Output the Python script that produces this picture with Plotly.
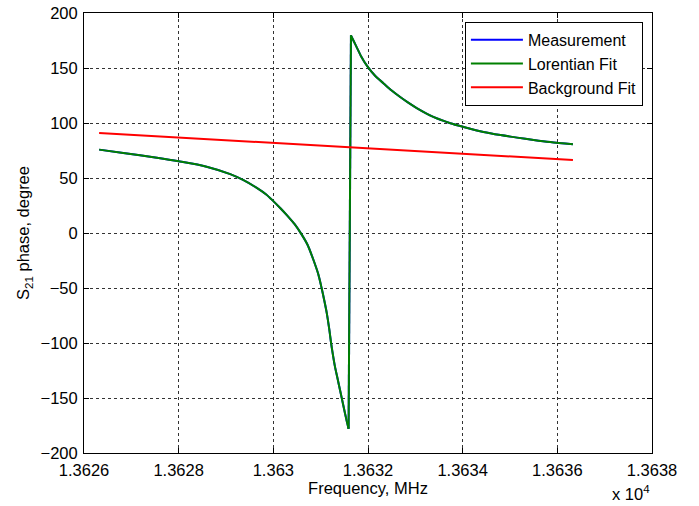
import plotly.graph_objects as go

# Lorentzian fit, branch below the phase wrap: frequency (MHz) and phase (degree)
left_freq = [13626.32, 13626.83, 13627.54, 13628.00, 13628.59, 13629.09, 13629.37,
             13629.65, 13629.85, 13630.00, 13630.15, 13630.29, 13630.45, 13630.60,
             13630.72, 13630.85, 13630.95, 13631.02, 13631.08, 13631.13, 13631.18,
             13631.22, 13631.26, 13631.30, 13631.36, 13631.41, 13631.48, 13631.54,
             13631.59]
left_phase = [75.8, 72.8, 68.4, 65.2, 60.3, 53.5, 48.0,
              41.0, 35.0, 29.0, 22.5, 16.0, 8.0, -1.5,
              -10.5, -24.8, -37.5, -50.0, -62.0, -73.0, -87.0,
              -100.0, -111.0, -121.0, -133.0, -143.0, -157.0, -169.0,
              -178.0]

# Branch above the phase wrap
right_freq = [13631.64, 13631.70, 13631.76, 13631.85, 13631.98,
              13632.15, 13632.33, 13632.50, 13632.68, 13632.85, 13633.03, 13633.38,
              13633.74, 13634.02, 13634.44, 13634.80, 13635.15, 13635.50, 13635.85,
              13636.33]
right_phase = [179.7, 174.3, 169.0, 161.0, 152.0,
               143.0, 136.0, 129.5, 123.6, 118.5, 113.6, 105.5,
               99.8, 96.4, 91.8, 89.0, 86.7, 84.6, 82.7,
               80.6]

# Measurement (hidden under the fit)
meas_left_phase = list(left_phase)
meas_right_phase = list(right_phase)

# Background fit (straight line)
bg_freq = [13626.32, 13636.33]
bg_phase = [90.9, 66.4]

x_tick_vals = [13626, 13628, 13630, 13632, 13634, 13636, 13638]
x_tick_labels = ["1.3626", "1.3628", "1.363", "1.3632", "1.3634", "1.3636", "1.3638"]
y_tick_vals = [-200, -150, -100, -50, 0, 50, 100, 150, 200]

FONT = "Liberation Sans, Arial, sans-serif"
FS = 16.5

fig = go.Figure()


def add_phase_curve(name, color, lph, rph):
    line = dict(color=color, width=2)
    fig.add_trace(go.Scatter(x=left_freq, y=lph, mode="lines", name=name,
                             legendgroup=name,
                             line=dict(shape="spline", smoothing=0.8, **line)))
    fig.add_trace(go.Scatter(x=[left_freq[-1], right_freq[0]], y=[lph[-1], rph[0]],
                             mode="lines", name=name, legendgroup=name,
                             showlegend=False, line=line))
    fig.add_trace(go.Scatter(x=right_freq, y=rph, mode="lines", name=name,
                             legendgroup=name, showlegend=False,
                             line=dict(shape="spline", smoothing=0.8, **line)))


add_phase_curve("Measurement", "#0000ff", meas_left_phase, meas_right_phase)
add_phase_curve("Lorentian Fit", "#008000", left_phase, right_phase)
fig.add_trace(go.Scatter(x=bg_freq, y=bg_phase, mode="lines",
                         name="Background Fit", line=dict(color="#ff0000", width=2)))

axis_common = dict(
    showline=True, linecolor="black", linewidth=1, mirror="allticks",
    ticks="inside", ticklen=5, tickcolor="black", tickwidth=1,
    showgrid=True, gridcolor="#333333", gridwidth=1, griddash="dot",
    zeroline=False, automargin=False, ticklabeloverflow="allow",
    tickfont=dict(family=FONT, size=FS, color="black"),
)

fig.update_layout(
    width=699, height=506,
    margin=dict(l=84, r=47, t=13, b=53, autoexpand=False),
    paper_bgcolor="white", plot_bgcolor="white",
    font=dict(family=FONT, size=FS, color="black"),
    xaxis=dict(range=[13626, 13638], tickvals=x_tick_vals, ticktext=x_tick_labels,
               ticklabelstandoff=2,
               title=dict(text="Frequency, MHz", font=dict(family=FONT, size=FS), standoff=2),
               **axis_common),
    yaxis=dict(range=[-200, 200], tickvals=y_tick_vals,
               ticklabelstandoff=2,
               title=dict(text="S<sub>21</sub> phase, degree", font=dict(family=FONT, size=FS), standoff=6),
               **axis_common),
    legend=dict(x=0.984, y=0.980, xanchor="right", yanchor="top",
                bgcolor="white", bordercolor="black", borderwidth=1,
                font=dict(family=FONT, size=16), tracegroupgap=0,
                itemwidth=52),
    showlegend=True,
    annotations=[dict(text="x 10<sup>4</sup>", xref="paper", yref="paper",
                      x=1.0, y=-0.09, xanchor="right", yanchor="middle",
                      showarrow=False, font=dict(family=FONT, size=FS))],
)

fig.write_html("out.html", config={"displayModeBar": False},
               post_script="document.body.style.margin='0';")
